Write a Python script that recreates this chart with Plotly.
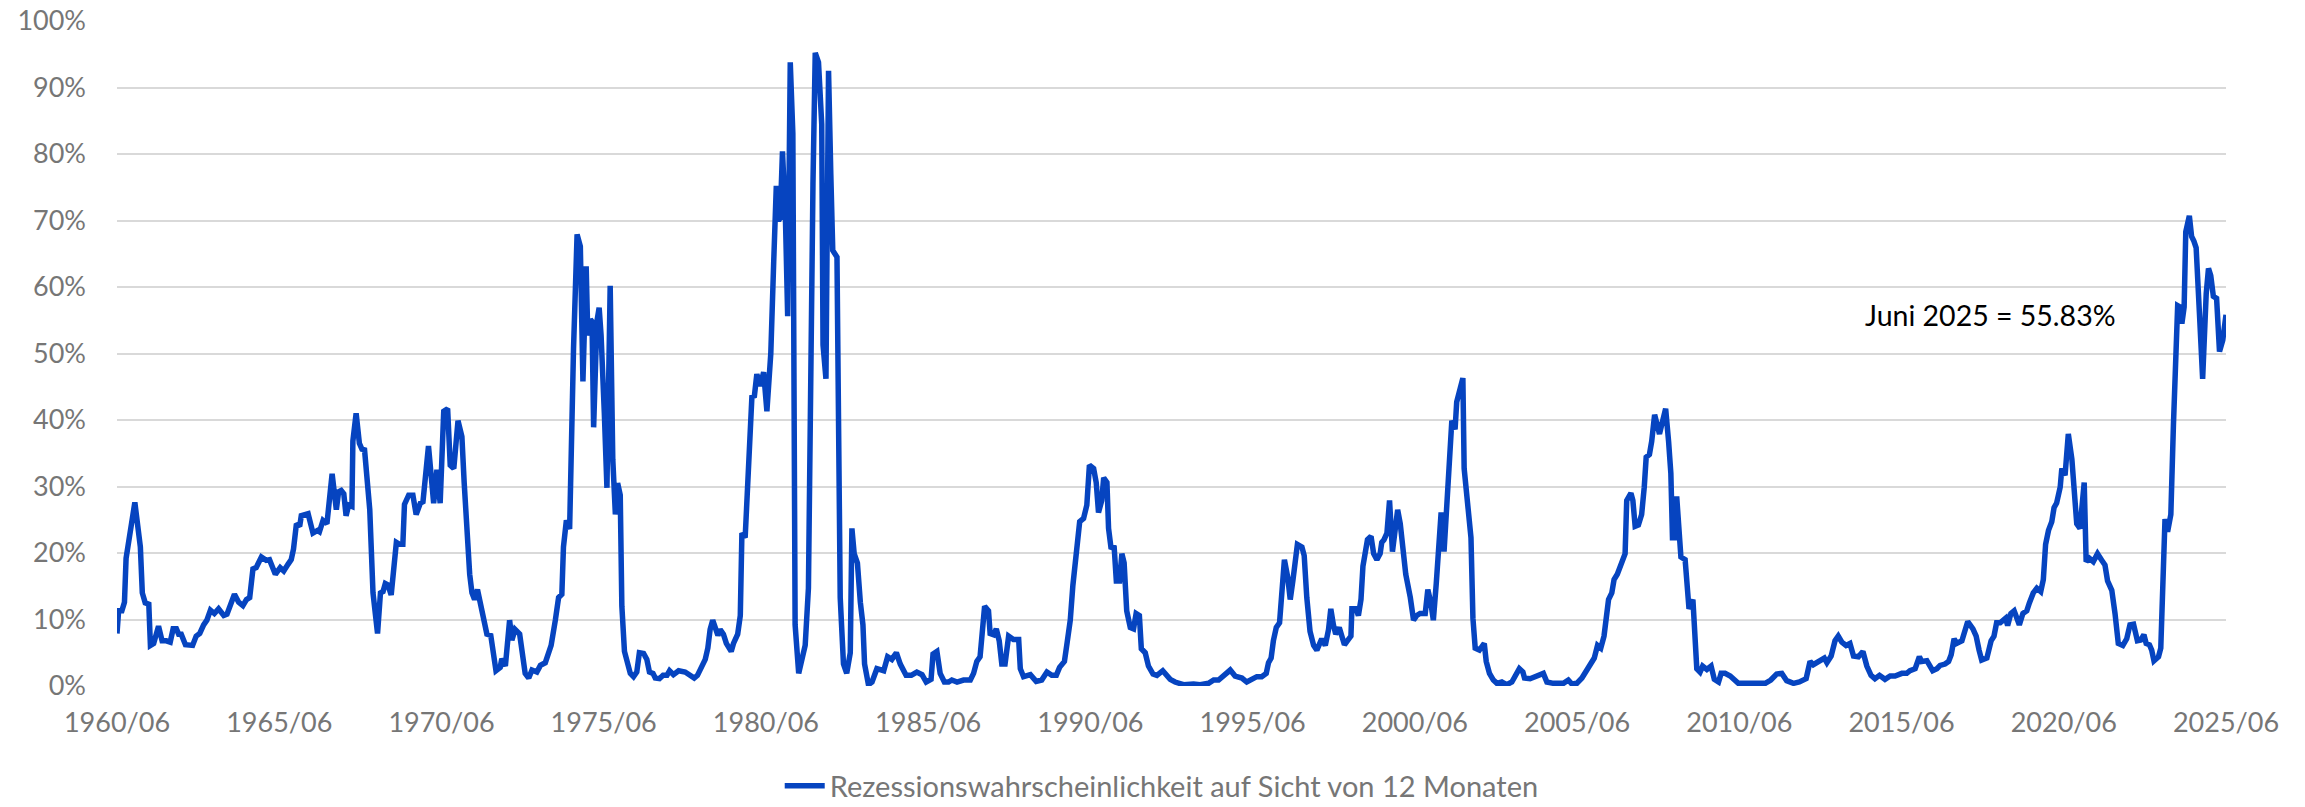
import plotly.graph_objects as go

# ---------------- data ----------------
series_name = "Rezessionswahrscheinlichkeit auf Sicht von 12 Monaten"

years_a = [1960.50,1960.55,1960.65,1960.73,1960.78,1960.86,1960.94,1961.05,1961.22,1961.28,
           1961.37,1961.48,1961.53,1961.63,1961.78,1961.89,1962.02,1962.14,1962.23,1962.33,
           1962.40,1962.48,1962.61,1962.76,1962.83,1962.94,1963.05,1963.17,1963.27,1963.38,
           1963.50,1963.63,1963.79,1963.89,1963.99,1964.12,1964.25,1964.38,1964.49,1964.59,
           1964.69,1964.79,1964.95,1965.10,1965.20,1965.38,1965.53,1965.64,1965.77,1965.87,
           1965.94,1966.03,1966.13,1966.18,1966.39,1966.54,1966.68,1966.74,1966.85,1966.97,
           1967.13,1967.26,1967.33,1967.41,1967.49,1967.56,1967.64,1967.74,1967.77,1967.87,
           1967.97,1968.05,1968.13,1968.29,1968.39,1968.46,1968.53,1968.62,1968.70,1968.77,
           1968.85,1968.95,1969.11,1969.21,1969.31,1969.36,1969.49,1969.62,1969.72,1969.85,
           1969.93,1970.10,1970.26,1970.36,1970.46,1970.57,1970.69,1970.77,1970.88,1971.01]
vals_a = [7.9,11.3,11.3,12.6,19.2,21.6,23.7,27.6,20.9,14.0,
          12.5,12.3,6.1,6.4,9.0,6.8,6.8,6.6,8.6,8.6,
          7.8,7.8,6.2,6.1,6.1,7.5,7.9,9.2,9.9,11.4,
          10.9,11.6,10.6,10.8,12.3,13.8,12.6,12.1,13.0,13.3,
          17.6,17.8,19.4,18.9,19.0,16.8,17.8,17.3,18.3,19.0,
          20.6,24.4,24.0,25.6,25.9,23.0,23.4,23.2,24.9,24.4,
          31.9,26.5,29.2,29.4,28.9,25.6,27.2,27.0,36.8,41.0,
          36.5,35.6,35.5,26.5,14.0,9.9,7.9,14.0,14.2,15.4,
          15.2,13.7,21.6,21.3,21.3,27.3,28.7,28.7,25.8,27.5,
          27.7,36.1,27.5,32.5,27.5,41.3,41.7,33.2,32.7,39.9]

years_b = [1971.13,1971.20,1971.29,1971.37,1971.44,1971.52,1971.61,1971.70,1971.80,1971.90,
           1972.02,1972.11,1972.18,1972.31,1972.36,1972.47,1972.60,1972.67,1972.77,1972.91,
           1972.98,1973.08,1973.19,1973.29,1973.44,1973.55,1973.70,1973.77,1973.88,1974.01,
           1974.11,1974.21,1974.26,1974.35,1974.45,1974.57,1974.68,1974.78,1974.86,1974.96,
           1975.01,1975.09,1975.14,1975.19,1975.29,1975.36,1975.42,1975.52,1975.60,1975.70,
           1975.78,1975.86,1975.93,1976.01,1976.06,1976.14,1976.24,1976.32,1976.42,1976.52,
           1976.60,1976.73,1976.83,1976.91,1977.02,1977.09,1977.22,1977.33,1977.45,1977.53,
           1977.65,1977.81,1978.01,1978.17,1978.29,1978.39,1978.48,1978.63,1978.71,1978.78,
           1978.86,1978.94,1979.02,1979.09,1979.19,1979.28,1979.43,1979.50,1979.63,1979.71,
           1979.76,1979.86,1979.97,1980.07,1980.14,1980.22,1980.32,1980.43,1980.53,1980.65,
           1980.74,1980.82,1980.89,1980.94,1981.01,1981.10,1981.17,1981.25,1981.33,1981.37,
           1981.40,1981.51]
vals_b = [37.5,30.6,21.6,16.8,14.0,13.0,14.5,12.6,10.2,7.8,
          7.6,5.0,2.3,2.8,4.1,3.0,9.9,6.9,8.5,7.8,
          5.7,1.9,1.2,2.4,2.1,3.1,3.5,4.7,6.1,9.9,
          13.3,13.8,20.9,24.9,23.6,50.7,67.9,66.1,45.8,63.1,
          52.7,55.1,54.8,38.9,54.8,56.9,52.7,41.0,29.8,60.2,
          34.1,25.8,30.5,28.7,12.0,5.2,3.0,1.9,1.4,2.1,
          5.0,4.9,4.0,2.1,1.9,1.2,1.1,1.6,1.6,2.3,
          1.7,2.3,2.1,1.6,1.2,1.6,2.6,4.0,5.7,8.5,
          9.9,8.6,7.6,8.5,7.8,6.4,5.2,6.4,7.8,10.6,
          23.0,22.3,33.4,43.7,43.4,46.9,45.1,47.2,41.3,50.0,
          63.8,75.2,70.0,70.4,80.4,70.7,55.6,93.8,83.1,54.8,
          9.2,1.9]

years_c = [1981.71,1981.81,1981.87,1981.95,1982.02,1982.12,1982.22,1982.26,1982.35,1982.43,
           1982.50,1982.56,1982.69,1982.74,1982.79,1982.89,1982.99,1983.10,1983.15,1983.22,
           1983.32,1983.41,1983.49,1983.54,1983.66,1983.77,1983.92,1984.13,1984.25,1984.38,
           1984.52,1984.64,1984.82,1984.98,1985.15,1985.31,1985.44,1985.59,1985.65,1985.77,
           1985.87,1986.00,1986.13,1986.23,1986.39,1986.59,1986.80,1986.90,1987.00,1987.10,
           1987.24,1987.36,1987.41,1987.52,1987.60,1987.69,1987.77,1987.87,1987.98,1988.13,
           1988.29,1988.34,1988.44,1988.65,1988.83,1989.00,1989.16,1989.31,1989.45,1989.55,
           1989.70,1989.78,1989.88,1989.96,1990.06,1990.17,1990.29,1990.39,1990.47,1990.60,
           1990.68,1990.75,1990.85,1990.91,1991.01,1991.06,1991.14,1991.23,1991.30,1991.40,
           1991.47,1991.54,1991.62,1991.73,1991.83,1991.91,1992.01,1992.07,1992.19,1992.29,
           1992.43,1992.55,1992.73,1992.86,1992.96,1993.11,1993.27]
vals_c = [6.1,14.7,44.4,75.5,95.2,93.8,84.5,51.3,46.2,92.5,
          76.9,65.5,64.5,41.0,13.3,3.3,1.9,5.0,23.7,19.9,
          18.5,12.6,9.2,3.3,0.2,0.6,2.6,2.3,4.4,4.0,
          5.0,3.3,1.6,1.6,2.1,1.7,0.6,1.0,4.8,5.2,
          1.9,0.6,0.6,0.9,0.6,0.9,0.9,1.9,3.7,4.4,
          12.0,11.3,7.9,7.7,8.6,6.8,3.3,3.3,7.5,7.0,
          7.0,2.6,1.4,1.7,0.7,0.9,2.1,1.6,1.6,2.8,
          3.7,6.4,9.9,15.1,20.6,24.7,25.2,27.2,33.2,32.7,
          30.6,26.1,27.9,31.3,30.6,23.7,20.6,21.1,15.8,15.8,
          19.9,18.5,11.3,8.8,8.6,10.9,10.6,5.6,5.0,3.0,
          1.8,1.6,2.3,1.6,1.0,0.6,0.4]

years_d = [1993.37,1993.68,1993.88,1994.14,1994.30,1994.45,1994.65,1994.81,1994.96,1995.17,
           1995.32,1995.48,1995.63,1995.78,1995.92,1995.99,1996.07,1996.14,1996.23,1996.33,
           1996.40,1996.48,1996.58,1996.66,1996.74,1996.81,1996.88,1997.02,1997.09,1997.17,
           1997.27,1997.38,1997.48,1997.63,1997.74,1997.84,1997.91,1997.99,1998.06,1998.17,
           1998.25,1998.33,1998.42,1998.53,1998.56,1998.69,1998.76,1998.84,1998.90,1998.97,
           1999.04,1999.15,1999.23,1999.33,1999.43,1999.48,1999.55,1999.64,1999.72,1999.81,
           1999.89,1999.97,2000.05,2000.13,2000.22,2000.36,2000.46,2000.56,2000.66,2000.82,
           2000.90,2000.99,2001.07,2001.16,2001.23,2001.31,2001.40,2001.51,2001.57,2001.64,
           2001.74,2001.79,2001.90,2001.98,2002.02,2002.15,2002.23,2002.29,2002.36,2002.49,
           2002.64,2002.70,2002.80,2002.92,2003.03,2003.18,2003.33,2003.49,2003.62,2003.72,
           2003.83,2003.88,2004.05,2004.21,2004.36]
vals_d = [0.2,0.3,0.2,0.4,0.9,0.9,1.6,2.4,1.5,1.2,
          0.6,1.0,1.4,1.4,1.9,3.5,4.2,6.8,8.8,9.5,
          14.7,19.0,16.4,13.0,15.8,18.2,21.3,20.9,19.6,13.3,
          8.2,6.1,5.4,7.1,6.1,8.5,11.6,9.2,7.8,8.8,
          7.5,6.2,6.8,7.5,11.6,11.6,10.6,13.0,18.0,19.6,
          22.0,22.5,19.9,19.0,19.9,21.6,22.0,23.0,27.9,20.2,
          23.4,26.5,24.4,20.6,16.8,13.3,9.9,10.6,10.9,10.9,
          14.5,12.6,9.9,15.4,21.6,26.1,20.2,27.9,32.7,39.9,
          38.6,42.7,44.8,46.3,32.7,25.1,22.3,10.2,5.7,5.4,
          6.4,3.7,1.9,0.9,0.4,0.6,0.2,0.6,1.6,2.6,
          2.1,1.2,1.1,1.5,1.7]

years_e = [2004.46,2004.57,2004.77,2005.08,2005.23,2005.34,2005.49,2005.65,2005.75,2005.90,
           2006.03,2006.13,2006.23,2006.33,2006.47,2006.57,2006.64,2006.74,2006.88,2006.98,
           2007.03,2007.16,2007.22,2007.29,2007.39,2007.49,2007.57,2007.63,2007.73,2007.80,
           2007.89,2007.96,2008.04,2008.14,2008.23,2008.32,2008.39,2008.44,2008.52,2008.57,
           2008.62,2008.70,2008.83,2008.88,2008.95,2009.07,2009.12,2009.19,2009.29,2009.37,
           2009.50,2009.63,2009.73,2009.86,2009.94,2010.06,2010.22,2010.32,2010.47,2010.73,
           2011.04,2011.30,2011.47,2011.65,2011.81,2011.96,2012.17,2012.35,2012.56,2012.68,
           2012.78,2012.94,2013.12,2013.20,2013.33,2013.45,2013.55,2013.66,2013.79,2013.91,
           2014.02,2014.17,2014.31,2014.43,2014.56,2014.68,2014.82,2014.99,2015.15,2015.30,
           2015.46]
vals_e = [1.9,0.6,0.4,0.4,0.9,0.3,0.4,1.2,2.1,3.3,
          4.2,6.1,5.7,7.5,13.0,14.0,16.0,16.8,18.9,19.9,
          27.9,29.0,27.9,24.0,24.2,25.8,29.9,34.4,34.8,36.8,
          40.8,39.6,37.9,39.9,41.7,36.8,32.0,22.3,22.3,28.5,
          24.7,19.4,19.0,15.1,11.6,13.0,7.1,2.6,2.1,3.0,
          2.5,3.0,1.0,0.6,1.9,1.9,1.5,1.1,0.4,0.4,
          0.3,0.4,0.9,1.8,1.9,0.8,0.4,0.6,1.1,3.7,
          3.2,3.7,4.2,3.5,4.5,6.8,7.5,6.6,6.1,6.4,
          4.5,4.4,5.2,3.0,1.6,1.1,1.6,1.0,1.5,1.5,
          1.9]

years_f = [2015.51,2015.66,2015.76,2015.92,2016.05,2016.12,2016.28,2016.46,2016.59,2016.69,
           2016.84,2016.95,2017.03,2017.12,2017.20,2017.36,2017.44,2017.54,2017.70,2017.80,
           2017.89,2017.97,2018.13,2018.26,2018.35,2018.43,2018.54,2018.64,2018.71,2018.77,
           2018.87,2018.97,2019.05,2019.13,2019.24,2019.36,2019.44,2019.56,2019.67,2019.79,
           2019.87,2019.94,2020.03,2020.13,2020.20,2020.28,2020.39,2020.44,2020.54,2020.64,
           2020.75,2020.83,2020.90,2021.00,2021.13,2021.19,2021.29,2021.41,2021.54,2021.67,
           2021.77,2021.85,2021.98,2022.08,2022.18,2022.32,2022.44,2022.54,2022.65,2022.77,
           2022.87,2022.97,2023.04,2023.14,2023.21,2023.28,2023.42,2023.49,2023.55,2023.62,
           2023.70,2023.80,2023.88,2023.95,2024.01,2024.08,2024.14,2024.21,2024.26,2024.37,
           2024.44,2024.51,2024.58,2024.68,2024.78,2024.89,2024.96,2025.03,2025.11,2025.21,
           2025.30,2025.40,2025.50]
vals_f = [1.9,1.9,2.3,2.6,4.4,3.7,3.8,2.3,2.6,3.1,
          3.3,3.7,4.7,7.1,6.4,6.8,8.2,9.7,8.6,7.5,
          5.4,3.9,4.2,6.8,7.5,9.5,9.5,9.9,10.2,9.1,
          10.9,11.3,10.2,9.2,10.9,11.3,12.5,14.0,14.7,14.2,
          16.0,21.3,23.4,24.7,26.8,27.5,29.9,32.7,31.7,37.9,
          34.1,27.5,24.4,23.7,30.6,18.7,19.2,18.7,19.9,18.9,
          18.2,15.8,14.4,10.9,6.4,6.1,7.1,9.2,9.3,6.8,
          6.9,7.7,6.4,6.2,5.4,3.8,4.4,5.7,17.8,25.1,
          23.2,25.8,39.3,48.6,57.2,57.0,54.5,57.0,68.3,70.7,
          67.6,66.9,65.9,56.2,46.2,59.0,62.8,61.7,58.6,58.3,
          50.3,52.0,55.83]

tick_years = [1960.5, 1965.5, 1970.5, 1975.5, 1980.5, 1985.5, 1990.5,
              1995.5, 2000.5, 2005.5, 2010.5, 2015.5, 2020.5, 2025.5]
tick_labels = ["1960/06", "1965/06", "1970/06", "1975/06", "1980/06", "1985/06", "1990/06",
               "1995/06", "2000/06", "2005/06", "2010/06", "2015/06", "2020/06", "2025/06"]
y_ticks = [0, 10, 20, 30, 40, 50, 60, 70, 80, 90, 100]
y_labels = [f"{v}%" for v in y_ticks]

annotation_text = "Juni 2025 = 55.83%"
annotation_pos = (2014.31, 55.8)

# ---------------- figure ----------------
segments = [(years_a, vals_a), (years_b, vals_b), (years_c, vals_c),
            (years_d, vals_d), (years_e, vals_e), (years_f, vals_f)]
years, vals = [], []
for ys, vs in segments:
    n = min(len(ys), len(vs))
    years += ys[:n]
    vals += vs[:n]

GRAY = "#767676"
FONT = "Lato"

fig = go.Figure()
fig.add_trace(go.Scatter(
    x=years, y=vals, mode="lines", name=series_name,
    line=dict(color="#0644C0", width=5.5),
    showlegend=True,
))

fig.update_layout(
    width=2305, height=807,
    margin=dict(l=117, r=79, t=21, b=121, autoexpand=False),
    paper_bgcolor="white", plot_bgcolor="white",
    font=dict(family=FONT, size=27, color=GRAY),
    showlegend=True,
    legend=dict(
        orientation="h", xref="container", yref="container",
        x=0.504, xanchor="center", y=0.026, yanchor="middle",
        font=dict(family=FONT, size=29, color=GRAY),
        itemwidth=40,
    ),
    xaxis=dict(
        range=[1960.5, 2025.5], tickmode="array", tickvals=tick_years, ticktext=tick_labels,
        showgrid=False, zeroline=False, showline=False, ticks="",
        tickfont=dict(family=FONT, size=27, color=GRAY),
        ticklabelstandoff=18, tickangle=0, automargin=False,
    ),
    yaxis=dict(
        range=[0, 100], tickmode="array", tickvals=y_ticks, ticktext=y_labels,
        showgrid=True, gridcolor="#d9d9d9", gridwidth=2,
        zeroline=False, showline=False, ticks="",
        tickfont=dict(family=FONT, size=27, color=GRAY),
        ticklabelstandoff=30, automargin=False,
    ),
    annotations=[dict(
        x=annotation_pos[0], y=annotation_pos[1], xref="x", yref="y",
        text=annotation_text, showarrow=False, xanchor="left", yanchor="middle",
        font=dict(family=FONT, size=28.5, color="black"),
    )],
)

fig.write_html("out.html", config={"displayModeBar": False},
               post_script="document.body.style.margin='0';document.body.style.overflow='hidden';")
